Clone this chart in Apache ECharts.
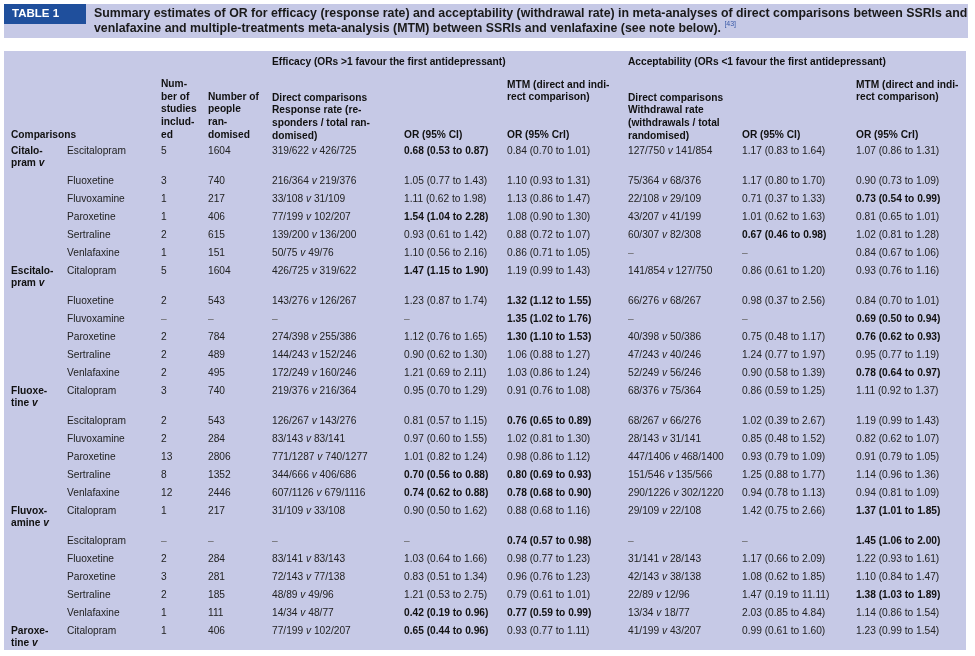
<!DOCTYPE html>
<html><head><meta charset="utf-8">
<script src="https://cdn.jsdelivr.net/npm/echarts@6/dist/echarts.min.js"></script>
<style>html,body{margin:0;padding:0;background:#fff}#c{width:975px;height:656px}</style>
</head><body><div id="c"></div>
<script>
// ---------------- DATA ----------------
const tableTitle = "TABLE 1";
const captionLine1 = "Summary estimates of OR for efficacy (response rate) and acceptability (withdrawal rate) in meta-analyses of direct comparisons between SSRIs and";
const captionLine2 = "venlafaxine and multiple-treatments meta-analysis (MTM) between SSRIs and venlafaxine (see note below).";
const captionRef = "[43]";
const efficacyHeader = "Efficacy (ORs >1 favour the first antidepressant)";
const acceptHeader = "Acceptability (ORs <1 favour the first antidepressant)";
const groupLabels = [["Citalo-","pram"],["Escitalo-","pram"],["Fluoxe-","tine"],["Fluvox-","amine"],["Paroxe-","tine"]];
const groupSizes = [6,6,6,6,1];
const comparators = [
 "Escitalopram","Fluoxetine","Fluvoxamine","Paroxetine","Sertraline","Venlafaxine",
 "Citalopram","Fluoxetine","Fluvoxamine","Paroxetine","Sertraline","Venlafaxine",
 "Citalopram","Escitalopram","Fluvoxamine","Paroxetine","Sertraline","Venlafaxine",
 "Citalopram","Escitalopram","Fluoxetine","Paroxetine","Sertraline","Venlafaxine",
 "Citalopram"];
const studies = [5,3,1,1,2,1, 5,2,null,2,2,2, 3,2,2,13,8,12, 1,null,2,3,2,1, 1];
const people = [1604,740,217,406,615,151, 1604,543,null,784,489,495, 740,543,284,2806,1352,2446, 217,null,284,281,185,111, 406];
const effResponse = [[319,622,426,725],[216,364,219,376],[33,108,31,109],[77,199,102,207],[139,200,136,200],[50,75,49,76],
 [426,725,319,622],[143,276,126,267],null,[274,398,255,386],[144,243,152,246],[172,249,160,246],
 [219,376,216,364],[126,267,143,276],[83,143,83,141],[771,1287,740,1277],[344,666,406,686],[607,1126,679,1116],
 [31,109,33,108],null,[83,141,83,143],[72,143,77,138],[48,89,49,96],[14,34,48,77],
 [77,199,102,207]];
const effOR = [[0.68,0.53,0.87],[1.05,0.77,1.43],[1.11,0.62,1.98],[1.54,1.04,2.28],[0.93,0.61,1.42],[1.10,0.56,2.16],
 [1.47,1.15,1.90],[1.23,0.87,1.74],null,[1.12,0.76,1.65],[0.90,0.62,1.30],[1.21,0.69,2.11],
 [0.95,0.70,1.29],[0.81,0.57,1.15],[0.97,0.60,1.55],[1.01,0.82,1.24],[0.70,0.56,0.88],[0.74,0.62,0.88],
 [0.90,0.50,1.62],null,[1.03,0.64,1.66],[0.83,0.51,1.34],[1.21,0.53,2.75],[0.42,0.19,0.96],
 [0.65,0.44,0.96]];
const effMTM = [[0.84,0.70,1.01],[1.10,0.93,1.31],[1.13,0.86,1.47],[1.08,0.90,1.30],[0.88,0.72,1.07],[0.86,0.71,1.05],
 [1.19,0.99,1.43],[1.32,1.12,1.55],[1.35,1.02,1.76],[1.30,1.10,1.53],[1.06,0.88,1.27],[1.03,0.86,1.24],
 [0.91,0.76,1.08],[0.76,0.65,0.89],[1.02,0.81,1.30],[0.98,0.86,1.12],[0.80,0.69,0.93],[0.78,0.68,0.90],
 [0.88,0.68,1.16],[0.74,0.57,0.98],[0.98,0.77,1.23],[0.96,0.76,1.23],[0.79,0.61,1.01],[0.77,0.59,0.99],
 [0.93,0.77,1.11]];
const accWithdrawal = [[127,750,141,854],[75,364,68,376],[22,108,29,109],[43,207,41,199],[60,307,82,308],null,
 [141,854,127,750],[66,276,68,267],null,[40,398,50,386],[47,243,40,246],[52,249,56,246],
 [68,376,75,364],[68,267,66,276],[28,143,31,141],[447,1406,468,1400],[151,546,135,566],[290,1226,302,1220],
 [29,109,22,108],null,[31,141,28,143],[42,143,38,138],[22,89,12,96],[13,34,18,77],
 [41,199,43,207]];
const accOR = [[1.17,0.83,1.64],[1.17,0.80,1.70],[0.71,0.37,1.33],[1.01,0.62,1.63],[0.67,0.46,0.98],null,
 [0.86,0.61,1.20],[0.98,0.37,2.56],null,[0.75,0.48,1.17],[1.24,0.77,1.97],[0.90,0.58,1.39],
 [0.86,0.59,1.25],[1.02,0.39,2.67],[0.85,0.48,1.52],[0.93,0.79,1.09],[1.25,0.88,1.77],[0.94,0.78,1.13],
 [1.42,0.75,2.66],null,[1.17,0.66,2.09],[1.08,0.62,1.85],[1.47,0.19,11.11],[2.03,0.85,4.84],
 [0.99,0.61,1.60]];
const accMTM = [[1.07,0.86,1.31],[0.90,0.73,1.09],[0.73,0.54,0.99],[0.81,0.65,1.01],[1.02,0.81,1.28],[0.84,0.67,1.06],
 [0.93,0.76,1.16],[0.84,0.70,1.01],[0.69,0.50,0.94],[0.76,0.62,0.93],[0.95,0.77,1.19],[0.78,0.64,0.97],
 [1.11,0.92,1.37],[1.19,0.99,1.43],[0.82,0.62,1.07],[0.91,0.79,1.05],[1.14,0.96,1.36],[0.94,0.81,1.09],
 [1.37,1.01,1.85],[1.45,1.06,2.00],[1.22,0.93,1.61],[1.10,0.84,1.47],[1.38,1.03,1.89],[1.14,0.86,1.54],
 [1.23,0.99,1.54]];

// ---------------- LAYOUT / STYLE ----------------
const FONT = '"Liberation Sans", Arial, Helvetica, sans-serif';
const FS = 10.2;
const TXT = '#222';
const BG = '#c6c9e6';
const BLUE = '#1f4f9c';
const COL = {group:11, comp:67, studies:161, people:208, effDir:272, effOR:404, effMTM:507, accDir:628, accOR:742, accMTM:856};
const ROW0 = 151, FIRST_H = 30, ROW_H = 18, LINE2 = 12.5;

const cells = [];
function add(x, y, text, opt) { cells.push(Object.assign({x, y, text}, opt || {})); }
const DASH = '\u2013';
function orText(a) {
  if (!a) return {text: DASH, dash: true};
  const bold = a[1] > 1 || a[2] < 1;
  return {text: a[0].toFixed(2) + ' (' + a[1].toFixed(2) + ' to ' + a[2].toFixed(2) + ')', bold};
}
function ratioText(a) {
  if (!a) return {text: DASH, dash: true};
  return {text: a[0] + '/' + a[1] + ' {i|v} ' + a[2] + '/' + a[3], rich: true};
}

// header
const HB = {bold: true};
add(COL.effDir, 62, efficacyHeader, HB);
add(COL.accDir, 62, acceptHeader, HB);
['Num-','ber of','studies','includ-','ed'].forEach((t,k)=>add(COL.studies, 84 + k*12.7, t, HB));
['Number of','people','ran-','domised'].forEach((t,k)=>add(COL.people, 96.7 + k*12.7, t, HB));
add(COL.effDir, 98, 'Direct comparisons', HB);
['Response rate (re-','sponders / total ran-','domised)'].forEach((t,k)=>add(COL.effDir, 110.6 + k*12.7, t, HB));
add(COL.effOR, 135.5, 'OR (95% CI)', HB);
add(COL.effMTM, 85, 'MTM (direct and indi-', HB);
add(COL.effMTM, 97.5, 'rect comparison)', HB);
add(COL.effMTM, 135.5, 'OR (95% CrI)', HB);
add(COL.accDir, 98, 'Direct comparisons', HB);
['Withdrawal rate','(withdrawals / total','randomised)'].forEach((t,k)=>add(COL.accDir, 110.6 + k*12.7, t, HB));
add(COL.accOR, 135.5, 'OR (95% CI)', HB);
add(COL.accMTM, 85, 'MTM (direct and indi-', HB);
add(COL.accMTM, 97.5, 'rect comparison)', HB);
add(COL.accMTM, 135.5, 'OR (95% CrI)', HB);
add(COL.group, 135.5, 'Comparisons', HB);

// body
let r = 0, y = ROW0;
groupSizes.forEach((n, g) => {
  for (let k = 0; k < n; k++, r++) {
    if (k === 0) {
      add(COL.group, y, groupLabels[g][0], {bold: true});
      add(COL.group, y + LINE2, groupLabels[g][1] + ' {bi|v}', {bold: true, rich: true});
    }
    add(COL.comp, y, comparators[r]);
    add(COL.studies, y, studies[r] == null ? DASH : String(studies[r]), {dash: studies[r] == null});
    add(COL.people, y, people[r] == null ? DASH : String(people[r]), {dash: people[r] == null});
    const e1 = ratioText(effResponse[r]); add(COL.effDir, y, e1.text, e1);
    const e2 = orText(effOR[r]); add(COL.effOR, y, e2.text, e2);
    const e3 = orText(effMTM[r]); add(COL.effMTM, y, e3.text, e3);
    const a1 = ratioText(accWithdrawal[r]); add(COL.accDir, y, a1.text, a1);
    const a2 = orText(accOR[r]); add(COL.accOR, y, a2.text, a2);
    const a3 = orText(accMTM[r]); add(COL.accMTM, y, a3.text, a3);
    y += (k === 0 ? FIRST_H : ROW_H);
  }
});

const chart = echarts.init(document.getElementById('c'), null, {renderer: 'canvas'});
const rich = {
  i: {fontStyle: 'italic', fontSize: FS, fontFamily: FONT, fill: TXT, color: TXT},
  bi: {fontStyle: 'italic', fontWeight: 'bold', fontSize: FS, fontFamily: FONT, fill: '#111', color: '#111'}
};
chart.setOption({
  animation: false,
  grid: {left: 0, right: 0, top: 0, bottom: 0},
  xAxis: {type: 'value', min: 0, max: 975, show: false},
  yAxis: {type: 'value', min: 0, max: 656, inverse: true, show: false},
  graphic: [
    {type: 'rect', shape: {x: 4, y: 4, width: 964, height: 34}, style: {fill: BG}, z: 0},
    {type: 'rect', shape: {x: 4, y: 4, width: 82, height: 20}, style: {fill: BLUE}, z: 1},
    {type: 'text', x: 12, y: 14, style: {text: tableTitle, fill: '#fff', font: 'bold 11.5px ' + FONT, verticalAlign: 'middle'}, z: 2},
    {type: 'text', x: 94, y: 13.5, style: {text: captionLine1, fill: '#1a1a1a', font: 'bold 12.35px ' + FONT, verticalAlign: 'middle'}, z: 2},
    {type: 'text', x: 94, y: 28.5, style: {text: '{t|' + captionLine2 + ' }{s|' + captionRef + '}', verticalAlign: 'middle',
      rich: {t: {fill: '#1a1a1a', fontWeight: 'bold', fontSize: 12.35, fontFamily: FONT, lineHeight: 15},
             s: {fill: '#3a5aa8', fontSize: 7, fontFamily: FONT, verticalAlign: 'top', lineHeight: 8}}}, z: 2},
    {type: 'rect', shape: {x: 4, y: 51, width: 962, height: 599}, style: {fill: BG}, z: 0}
  ],
  series: [{
    type: 'custom',
    coordinateSystem: 'cartesian2d',
    clip: false,
    silent: true,
    z: 5,
    data: cells.map((c, i) => [c.x, c.y, i]),
    renderItem: function (params, api) {
      const c = cells[api.value(2)];
      const p = api.coord([api.value(0), api.value(1)]);
      return {
        type: 'text',
        style: {
          x: p[0], y: p[1], text: c.text,
          fill: c.dash ? '#666' : (c.bold ? '#111' : TXT),
          fontSize: FS, fontFamily: FONT, fontWeight: c.bold ? 'bold' : 'normal',
          align: 'left', verticalAlign: 'middle',
          rich: c.rich ? rich : undefined
        }
      };
    }
  }]
});
</script></body></html>
